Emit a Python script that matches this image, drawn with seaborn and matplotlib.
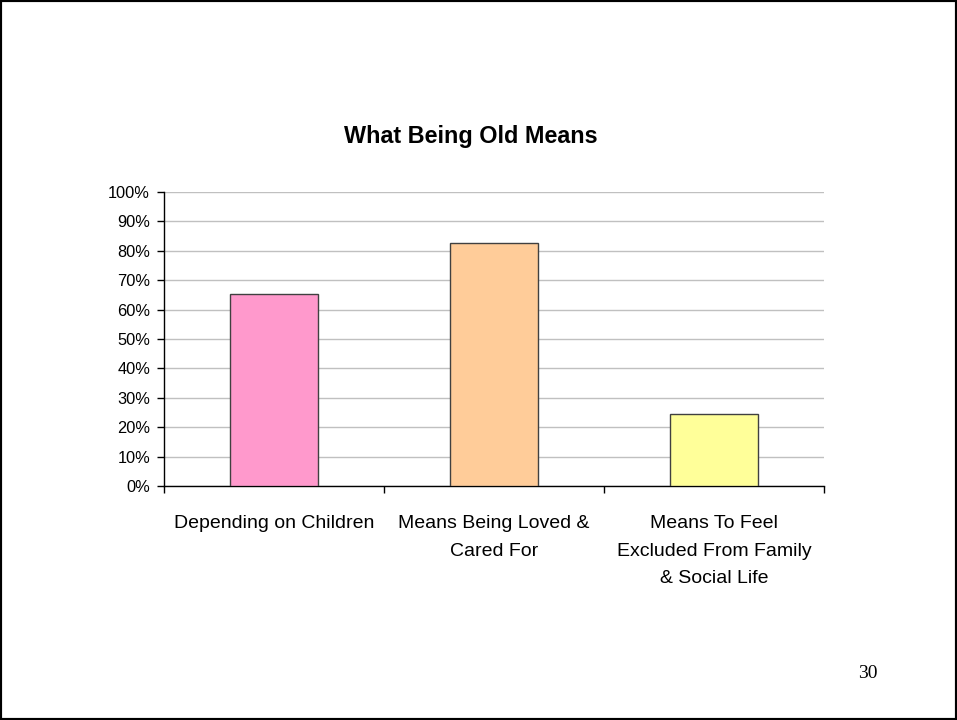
import matplotlib
matplotlib.use('Agg')
import matplotlib.pyplot as plt
import seaborn as sns
import pandas as pd
from matplotlib.patches import Rectangle

# 데이터
categories = ['Depending on Children', 'Means Being Loved &\nCared For',
              'Means To Feel\nExcluded From Family\n& Social Life']
values = [65.2, 82.5, 24.5]
colors = ['#FF99CC', '#FFCC99', '#FFFF99']
yticks = [0, 10, 20, 30, 40, 50, 60, 70, 80, 90, 100]

sns.set_style('ticks')
plt.rcParams['font.family'] = ['Liberation Sans', 'DejaVu Sans']
plt.rcParams['text.color'] = 'black'
plt.rcParams['xtick.color'] = 'black'
plt.rcParams['ytick.color'] = 'black'

df = pd.DataFrame({'cat': categories, 'val': values})

fig = plt.figure(figsize=(9.57, 7.2), dpi=100)
ax = fig.add_axes([164/957, 1-486/720, 660/957, 294/720])
sns.barplot(data=df, x='cat', y='val', hue='cat', palette=colors, width=0.4,
            saturation=1, edgecolor='#404040', linewidth=1.0, legend=False,
            ax=ax, zorder=3)

ax.set_ylim(0, 100)
ax.set_xlim(-0.5, 2.5)
ax.set_yticks(yticks)
ax.set_yticklabels([f'{v}%' for v in yticks], fontsize=11.8)
ax.yaxis.grid(True, color='#c0c0c0', linewidth=1.0, zorder=0)
ax.set_axisbelow(True)
ax.set_xlabel('')
ax.set_ylabel('')
ax.tick_params(axis='x', which='major', length=0, labelsize=14, pad=21)
for lab in ax.get_xticklabels():
    lab.set_linespacing(1.82)
ax.set_xticks([-0.5, 0.5, 1.5, 2.5], minor=True)
ax.tick_params(axis='x', which='minor', length=5, width=1, bottom=True,
               color='black', direction='out')
ax.tick_params(axis='y', length=5, width=1, color='black', direction='out',
               left=True, pad=5)
for s in ['top', 'right']:
    ax.spines[s].set_visible(False)
for s in ['left', 'bottom']:
    ax.spines[s].set_color('black')
    ax.spines[s].set_linewidth(1.0)

fig.text(471/957, 1-137/720, 'What Being Old Means', ha='center', va='center',
         fontsize=16.8, fontweight='bold')
fig.text(868/957, 1-674/720, '30', ha='center', va='center', fontsize=14,
         family='Liberation Serif')

# 테두리
fig.patches.append(Rectangle((0, 0), 1, 1, transform=fig.transFigure, fill=False,
                             edgecolor='black', linewidth=3))

fig.savefig('out.png', dpi=100)
